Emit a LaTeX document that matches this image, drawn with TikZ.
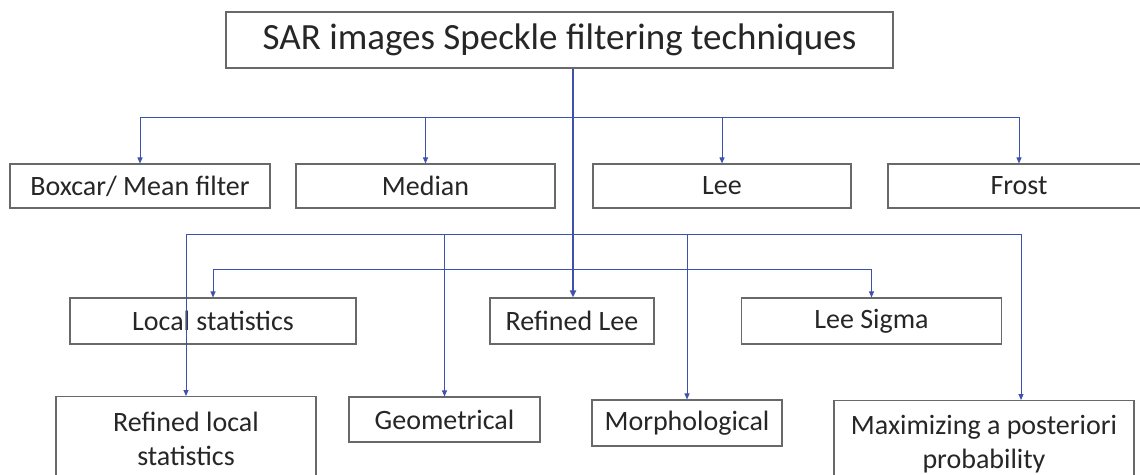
\documentclass[tikz,border=0pt]{standalone}
\usepackage{fontspec}
\setmainfont{Carlito}
\usetikzlibrary{arrows.meta}
\definecolor{lnblue}{RGB}{62,82,172}
\definecolor{boxgray}{RGB}{105,105,105}
\definecolor{txtc}{RGB}{38,38,38}
\begin{document}
\begin{tikzpicture}[x=1pt,y=-1pt,
  box/.style={draw=boxgray, line width=1.1pt, text=txtc, inner sep=0pt,
    font=\fontsize{28}{34}\selectfont, align=center},
  conn/.style={draw=lnblue, line width=0.9pt, -{Triangle[length=6pt,width=5pt]}},
  trunkline/.style={draw=lnblue, line width=1.8pt, -{Triangle[length=7pt,width=6pt]}}]
\useasboundingbox (0,0) rectangle (1140,474);
\fill[white] (0,0) rectangle (1140,474);
\clip (0,0) rectangle (1140,474);

% nodes
\node[box, minimum width=667pt, minimum height=56pt, font=\fontsize{37}{44}\selectfont] (title) at (559.5,40) {SAR images Speckle filtering techniques};

\node[box, minimum width=260pt, minimum height=44pt] (boxcar) at (140,186) {Boxcar/ Mean filter};
\node[box, minimum width=259pt, minimum height=44pt] (median) at (425.5,186) {Median};
\node[box, minimum width=258pt, minimum height=44pt] (lee) at (722,186) {Lee};
\node[box, minimum width=262pt, minimum height=44pt] (frost) at (1019,186) {Frost};

\node[box, minimum width=286pt, minimum height=46pt] (locst) at (213,321) {Local statistics};
\node[box, minimum width=164pt, minimum height=46pt] (rlee) at (572,321) {Refined Lee};
\node[box, minimum width=260pt, minimum height=46pt] (lsig) at (871.5,321) {Lee Sigma};

\node[box, minimum width=260pt, minimum height=84pt, anchor=north] (rloc) at (186,396) {Refined local\\statistics};
\node[box, minimum width=191pt, minimum height=45pt] (geom) at (444.5,419.5) {Geometrical};
\node[box, minimum width=190pt, minimum height=46pt] (morph) at (687,423) {Morphological};
\node[box, minimum width=300pt, minimum height=88pt, anchor=north] (maxp) at (984,400) {Maximizing a posteriori\\probability};

% junction coordinates
\coordinate (tk) at (573,0);
\coordinate (h1) at (573,117);
\coordinate (h2) at (573,234);
\coordinate (h3) at (573,269);
\coordinate (mx) at (1021,0);

% connectors
\draw[trunkline] (title.south -| tk) -- (rlee.north -| tk);

\draw[conn] (h1) -| (boxcar.north);
\draw[conn] (h1) -| (median.north);
\draw[conn] (h1) -| (lee.north);
\draw[conn] (h1) -| (frost.north);

\draw[conn] (h2) -| (rloc.north);
\draw[conn] (h2) -| (geom.north);
\draw[conn] (h2) -| (morph.north);
\draw[conn] (h2) -| (maxp.north -| mx);

\draw[conn] (h3) -| (locst.north);
\draw[conn] (h3) -| (lsig.north);
\end{tikzpicture}
\end{document}
